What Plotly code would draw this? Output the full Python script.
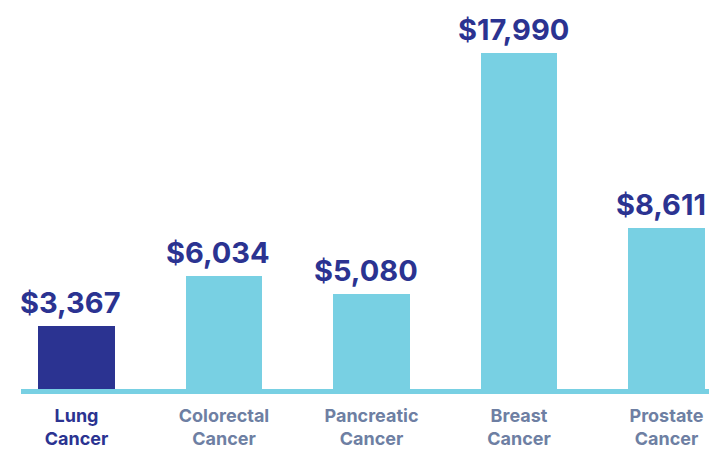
import plotly.graph_objects as go

categories = [["Lung", "Cancer"], ["Colorectal", "Cancer"], ["Pancreatic", "Cancer"], ["Breast", "Cancer"], ["Prostate", "Cancer"]]
values = [3367, 6034, 5080, 17990, 8611]
value_labels = ["$3,367", "$6,034", "$5,080", "$17,990", "$8,611"]

NAVY = "rgb(43,51,145)"
LIGHT = "#78D0E3"
GRAY = "rgb(110,127,163)"

bar_colors = [NAVY] + [LIGHT] * (len(values) - 1)
label_colors = [NAVY] + [GRAY] * (len(values) - 1)
xs = list(range(len(values)))
tick_text = ["<br>".join(f"<b><span style='color:{col}'>{w}</span></b>" for w in c)
             for c, col in zip(categories, label_colors)]

fig = go.Figure()
fig.add_trace(go.Bar(x=xs, y=values, marker=dict(color=bar_colors, line=dict(width=0)),
                     width=0.52, hoverinfo="skip"))

for x, v, t in zip(xs, values, value_labels):
    fig.add_annotation(x=x, y=v, text=f"<b>{t}</b>", showarrow=False, yanchor="bottom",
                       xanchor="center", xshift=-6, yshift=4,
                       font=dict(family="Inter, Lato, sans-serif", size=29, color=NAVY))

units_per_px = 17990 / 336.0
fig.add_shape(type="rect", xref="paper", yref="y", x0=21 / 724, x1=709 / 724,
              y0=-5 * units_per_px, y1=0, fillcolor=LIGHT, line=dict(width=0), layer="below")

fig.update_layout(
    width=724, height=453,
    margin=dict(l=0, r=0, t=0, b=59, autoexpand=False),
    paper_bgcolor="white", plot_bgcolor="white",
    showlegend=False,
    bargap=0,
    xaxis=dict(range=[-0.5186, 4.3898], tickmode="array", tickvals=xs, ticktext=tick_text,
               showgrid=False, zeroline=False, showline=False, ticks="", automargin=False,
               tickfont=dict(family="Inter, Lato, sans-serif", size=18, color=GRAY),
               ticklabelstandoff=9),
    yaxis=dict(range=[-5 * units_per_px, 389 * units_per_px], visible=False, showgrid=False, zeroline=False),
)
fig.write_html("out.html", config={"displayModeBar": False},
               post_script="document.body.style.margin='0px';")
